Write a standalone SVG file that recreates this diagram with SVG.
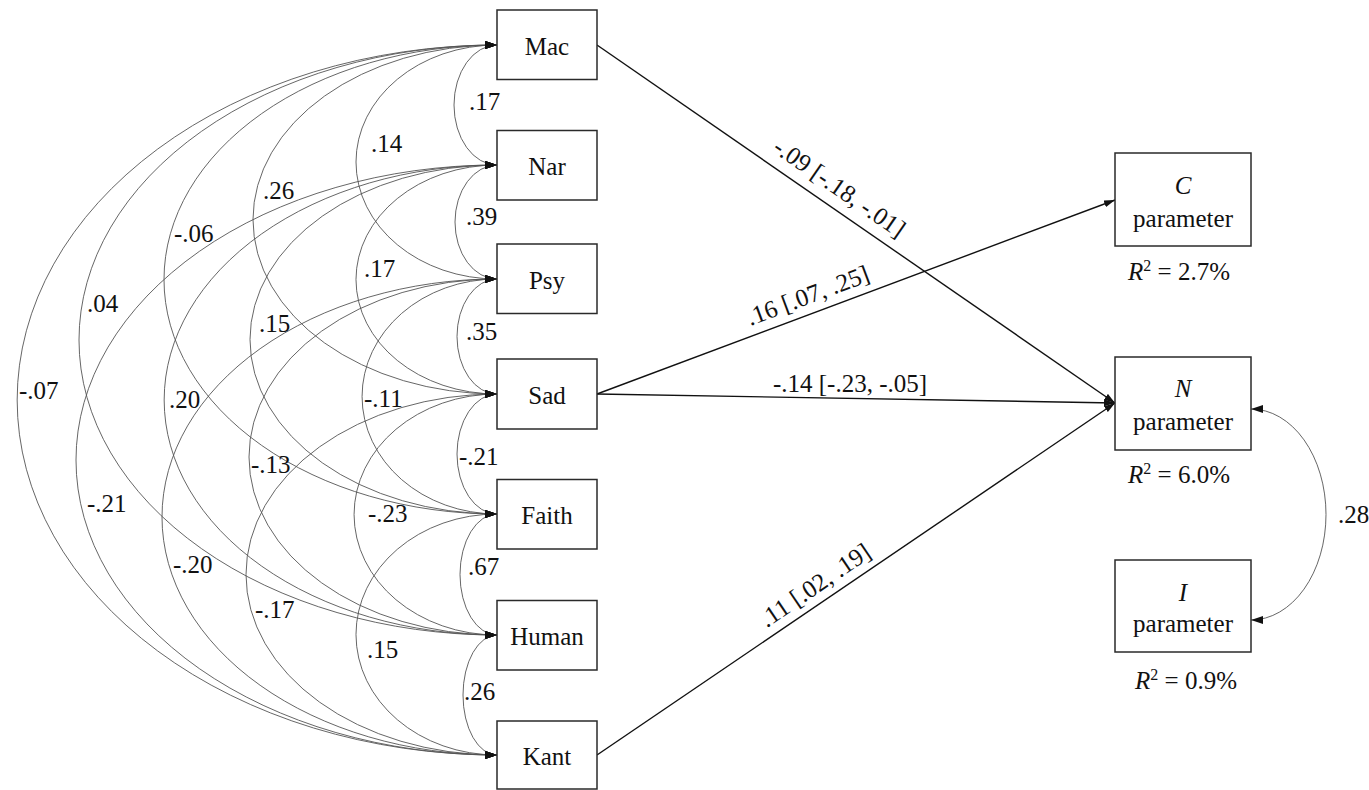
<svg xmlns="http://www.w3.org/2000/svg" width="1369" height="790" viewBox="0 0 1369 790" font-family="'Liberation Serif', 'DejaVu Serif', serif">
<defs>
<style>
text{font-size:25px;fill:#111}
.box{fill:#fff;stroke:#2a2a2a;stroke-width:1.5}
.arc{fill:none;stroke:#555;stroke-width:0.9;marker-start:url(#ah);marker-end:url(#ah)}
.path{fill:none;stroke:#111;stroke-width:1.4;marker-end:url(#ap)}
.mid{text-anchor:middle}
.it{font-style:italic}
</style>
<marker id="ah" viewBox="0 0 12 8" refX="12" refY="4" markerWidth="12" markerHeight="8" markerUnits="userSpaceOnUse" orient="auto-start-reverse"><path d="M0,0 L12,4 L0,8 z" fill="#111"/></marker>
<marker id="ap" viewBox="0 0 11 7" refX="11" refY="3.5" markerWidth="11" markerHeight="7" markerUnits="userSpaceOnUse" orient="auto"><path d="M0,0 L11,3.5 L0,7 z" fill="#111"/></marker>
</defs>
<rect width="1369" height="790" fill="#fff"/>

<g id="connectors">
<path class="arc" d="M497,45 A43,60 0 0 0 497,165"/>
<path class="arc" d="M497,165 A42,57 0 0 0 497,279"/>
<path class="arc" d="M497,279 A40,57.5 0 0 0 497,394"/>
<path class="arc" d="M497,394 A40,60 0 0 0 497,514"/>
<path class="arc" d="M497,514 A37,60.5 0 0 0 497,635"/>
<path class="arc" d="M497,635 A34,60 0 0 0 497,755"/>
<path class="arc" d="M497,45 A141,117 0 0 0 497,279"/>
<path class="arc" d="M497,165 A141,114.5 0 0 0 497,394"/>
<path class="arc" d="M497,279 A135,117.5 0 0 0 497,514"/>
<path class="arc" d="M497,394 A143,120.5 0 0 0 497,635"/>
<path class="arc" d="M497,514 A141,120.5 0 0 0 497,755"/>
<path class="arc" d="M497,45 A244,174.5 0 0 0 497,394"/>
<path class="arc" d="M497,165 A247,174.5 0 0 0 497,514"/>
<path class="arc" d="M497,279 A248,178 0 0 0 497,635"/>
<path class="arc" d="M497,394 A251,180.5 0 0 0 497,755"/>
<path class="arc" d="M497,45 A333,234.5 0 0 0 497,514"/>
<path class="arc" d="M497,165 A333,235 0 0 0 497,635"/>
<path class="arc" d="M497,279 A335,238 0 0 0 497,755"/>
<path class="arc" d="M497,45 A418,295 0 0 0 497,635"/>
<path class="arc" d="M497,165 A421,295 0 0 0 497,755"/>
<path class="arc" d="M497,45 A480,355 0 0 0 497,755"/>
<path class="arc" d="M1251,409 A75,105.5 0 0 1 1251,620"/>
<path class="path" d="M597,45 L1115,403"/>
<path class="path" d="M597,394 L1115,200"/>
<path class="path" d="M597,394 L1115,403"/>
<path class="path" d="M597,755 L1115,403"/>
</g>

<g id="cov-labels">
<text x="469" y="110">.17</text>
<text x="466" y="225">.39</text>
<text x="466" y="340">.35</text>
<text x="459" y="465">-.21</text>
<text x="468" y="575">.67</text>
<text x="464" y="700">.26</text>
<text x="371" y="152">.14</text>
<text x="364" y="277">.17</text>
<text x="364" y="407">-.11</text>
<text x="368" y="522">-.23</text>
<text x="367" y="658">.15</text>
<text x="263" y="199">.26</text>
<text x="259" y="332">.15</text>
<text x="251" y="473">-.13</text>
<text x="255" y="618">-.17</text>
<text x="174" y="242">-.06</text>
<text x="169" y="408">.20</text>
<text x="173" y="573">-.20</text>
<text x="87" y="312">.04</text>
<text x="87" y="512">-.21</text>
<text x="19" y="399">-.07</text>
<text x="1338" y="523">.28</text>
</g>

<g id="path-labels">
<text class="mid" transform="translate(828,204.5) rotate(34.65)" y="-12">-.09 [-.18, -.01]</text>
<text class="mid" transform="translate(814.2,312.7) rotate(-20.53)" y="-10">.16 [.07, .25]</text>
<text class="mid" x="850" y="391.7">-.14 [-.23, -.05]</text>
<text class="mid" transform="translate(825,600) rotate(-34.2)" y="-9.5">.11 [.02, .19]</text>
</g>

<g id="node-mac"><rect class="box" x="497" y="10" width="100" height="69.5"/><text class="mid" x="547" y="54.5">Mac</text></g>
<g id="node-nar"><rect class="box" x="497" y="130.5" width="100" height="69.5"/><text class="mid" x="547" y="175">Nar</text></g>
<g id="node-psy"><rect class="box" x="497" y="244" width="100" height="69.5"/><text class="mid" x="547" y="288.5">Psy</text></g>
<g id="node-sad"><rect class="box" x="497" y="359" width="100" height="70"/><text class="mid" x="547" y="403.5">Sad</text></g>
<g id="node-faith"><rect class="box" x="497" y="479.5" width="100" height="69.5"/><text class="mid" x="547" y="524">Faith</text></g>
<g id="node-human"><rect class="box" x="497" y="600.5" width="100" height="69.5"/><text class="mid" x="547" y="645">Human</text></g>
<g id="node-kant"><rect class="box" x="497" y="721" width="100" height="68"/><text class="mid" x="547" y="765">Kant</text></g>

<g id="node-c"><rect class="box" x="1115" y="153" width="136" height="93"/><text class="mid it" x="1183" y="194">C</text><text class="mid" x="1183" y="227">parameter</text><text class="mid" x="1179" y="280"><tspan class="it">R</tspan><tspan dy="-9" font-size="16">2</tspan><tspan dy="9"> = 2.7%</tspan></text></g>
<g id="node-n"><rect class="box" x="1115" y="357" width="136" height="93"/><text class="mid it" x="1183" y="397">N</text><text class="mid" x="1183" y="430">parameter</text><text class="mid" x="1179" y="483"><tspan class="it">R</tspan><tspan dy="-9" font-size="16">2</tspan><tspan dy="9"> = 6.0%</tspan></text></g>
<g id="node-i"><rect class="box" x="1115" y="560" width="136" height="92"/><text class="mid it" x="1183" y="601">I</text><text class="mid" x="1183" y="632">parameter</text><text class="mid" x="1186" y="689"><tspan class="it">R</tspan><tspan dy="-9" font-size="16">2</tspan><tspan dy="9"> = 0.9%</tspan></text></g>
</svg>
